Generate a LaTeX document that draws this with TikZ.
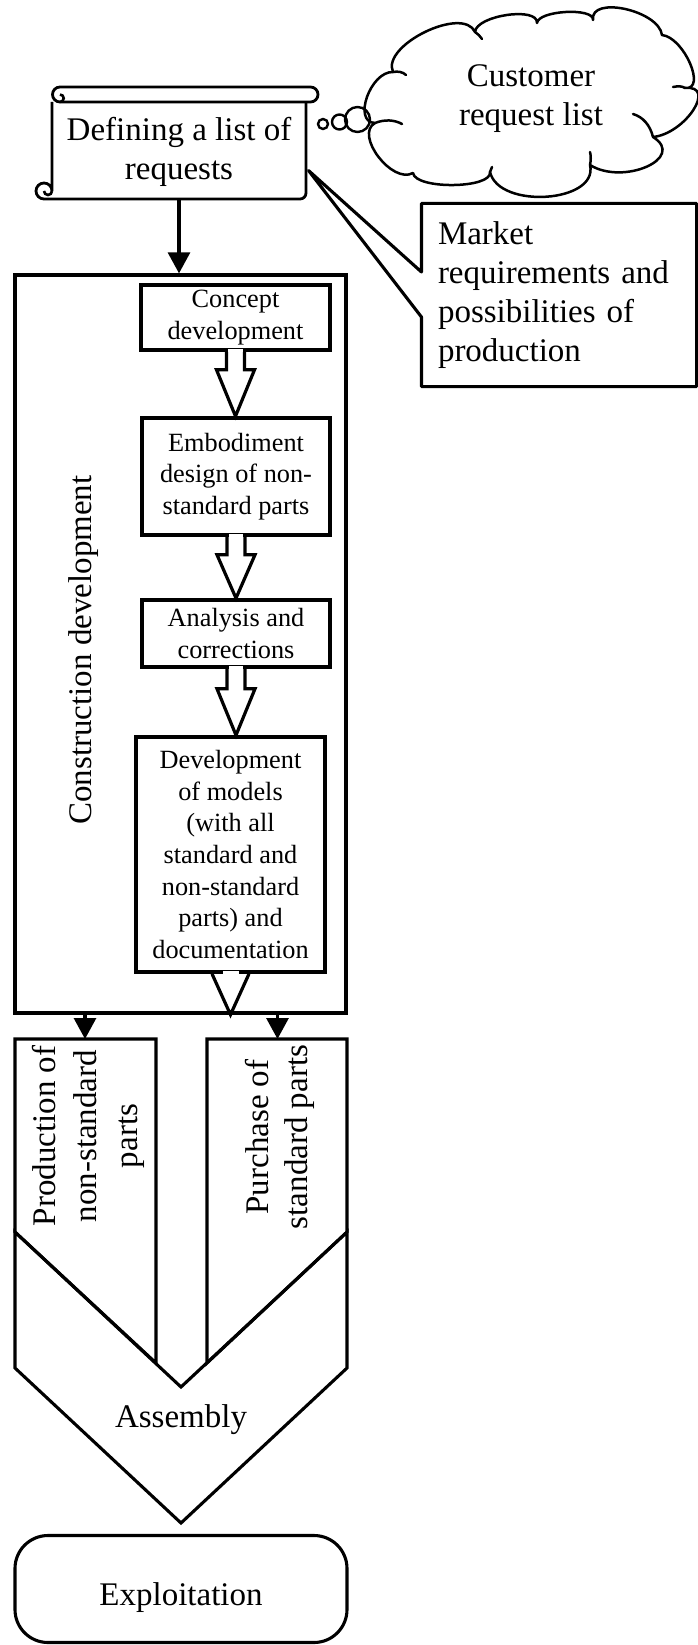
\documentclass[tikz,border=0pt]{standalone}
\usepackage{fontspec}
\setmainfont{Liberation Serif}
\usetikzlibrary{arrows.meta,calc}
\newcommand{\blkarrow}[3]{%
  \fill[white] ($(#1.south)+(-7.4,-2.8)$) rectangle ($(#1.south)+(7.4,2)$);
  \draw[blk] ($(#1.south)+(-9,0)$) -- ++(0,#3) -- ++(-10,0) -- (#1.south |- #2.north)
    -- ($(#1.south)+(19,#3)$) -- ++(-10,0) -- ++(0,-#3);
}
\begin{document}
\begin{tikzpicture}[x=1pt,y=-1pt,
  line width=3.1pt,
  bigtxt/.style={font=\fontsize{33}{39}\selectfont},
  boxtxt/.style={font=\fontsize{26.3}{31.6}\selectfont},
  stepbox/.style={draw, line width=3.6pt, rectangle, inner sep=0pt, align=center, boxtxt},
  arr/.style={-{Triangle[length=21pt,width=22pt]}},
  blk/.style={line width=3.2pt, line join=miter},
  bubble/.style={circle, draw, line width=2.4pt, inner sep=0pt},
  cloudline/.style={line width=2.5pt, line join=round, line cap=round},
]
\useasboundingbox (0,0) rectangle (697,1645);

% scroll: Defining a list of requests
\node[bigtxt, align=center, minimum width=254pt, minimum height=97pt, inner sep=0pt] (scroll) at (179,151.5) {Defining a list of\\requests};
\draw[line width=2.8pt] (306,102) -- (306,193) arc[start angle=0,end angle=90,radius=6] -- (44,199)
      arc[start angle=90,end angle=360,radius=8] -- (52,102);
\draw[line width=2.6pt] (52,191) arc[start angle=0,end angle=180,radius=4];
\draw[line width=2.8pt] (60,102) arc[start angle=90,end angle=270,radius=7.5] -- (310.5,87)
      arc[start angle=270,end angle=450,radius=7.5] -- cycle;
\draw[line width=2.6pt] (60,102) arc[start angle=90,end angle=-90,radius=3.75];

% cloud and thought bubbles
\draw[cloudline] (375,123) .. controls (352.3,122.3) and (370.3,71.3) .. (393,72)
  .. controls (381,45.3) and (463,5.3) .. (475,32)
  .. controls (476.3,15.3) and (538.3,6.3) .. (537,23)
  .. controls (538.3,10.3) and (594.3,7.3) .. (593,20)
  .. controls (589.7,-4.7) and (658.7,10.3) .. (662,35)
  .. controls (684,37.4) and (707,90.4) .. (685,88)
  .. controls (717.4,84.7) and (685.4,133.7) .. (653,137)
  .. controls (686.6,157.9) and (623.6,185.9) .. (590,165)
  .. controls (598.9,202.6) and (498.9,209.6) .. (490,172)
  .. controls (492.4,188.7) and (415.4,189.7) .. (413,173)
  .. controls (392.1,184.6) and (354.1,134.6) .. (375,123);
\draw[cloudline] (375,123) .. controls (385,119) and (395,120) .. (402,124);
\draw[cloudline] (393,72) .. controls (398,71) and (403,72) .. (406,75);
\draw[cloudline] (475,32) .. controls (478,34) and (480,36) .. (482,39);
\draw[cloudline] (685,88) .. controls (682,86) and (678,86) .. (673,87);
\draw[cloudline] (653,137) .. controls (650,125) and (643,117) .. (633,114);
\draw[cloudline] (590,165) .. controls (591,160) and (591,156) .. (590,152);
\draw[cloudline] (490,172) .. controls (490.5,170) and (491,169) .. (492,167);
\node[bigtxt, align=center, inner sep=0pt] (cloud) at (531,99) {Customer\\request list};
\node[bubble, minimum size=10pt] (b1) at (323,124) {};
\node[bubble, minimum size=15pt] (b2) at (339.5,122) {};
\node[bubble, minimum size=25pt] (b3) at (357.5,119.5) {};

% market callout
\node[bigtxt, align=left, text width=242pt, minimum width=272pt, minimum height=180pt, inner sep=0pt] (mkt) at (559,295)
  {Market\\requirements and\\possibilities of\\production};
\draw[line join=round] ($(mkt.west)+(0,-23)$) -- (mkt.north west) -- (mkt.north east) -- (mkt.south east)
  -- (mkt.south west) -- ($(mkt.west)+(0,22)$) -- ($(scroll.south east)+(1,-31)$) -- cycle;

% construction development frame
\node[draw, line width=3.3pt, minimum width=331pt, minimum height=738pt, inner sep=0pt] (cd) at (180.5,644) {};
\node[bigtxt, rotate=90] (cdt) at (84,650) {Construction development};
\draw[arr] (scroll.south |- 0,199) -- (scroll.south |- cd.north);

% steps
\node[stepbox, minimum width=189pt, minimum height=65pt] (c) at (235.5,317.5) {Concept\\development};
\node[stepbox, minimum width=188pt, minimum height=117pt] (e) at (236,476.5) {Embodiment\\design of non-\\standard parts};
\node[stepbox, minimum width=188pt, minimum height=67pt] (a) at (236,633.5) {Analysis and\\corrections};
\node[stepbox, minimum width=189pt, minimum height=235pt] (d) at (230.5,854.5)
  {Development\\of models\\(with all\\standard and\\non-standard\\parts) and\\documentation};

\blkarrow{c}{e}{18}
\blkarrow{e}{a}{18}
\blkarrow{a}{d}{20}
\fill[white] ($(d.south)+(-8,-2.8)$) rectangle ($(d.south)+(8,2)$);
\draw[blk] ($(d.south)+(-18.5,0)$) -- (d.south |- cd.south) -- ($(d.south)+(18.5,0)$);

% production / purchase
\coordinate (pt1) at (85,1039);
\coordinate (pt2) at (277.5,1039);
\draw[arr] (cd.south -| pt1) -- (pt1);
\draw[arr] (cd.south -| pt2) -- (pt2);
\draw (15,1039) -- (156,1039) -- (156,1363) -- (15,1232) -- cycle;
\draw (207,1039) -- (347,1039) -- (347,1232) -- (207,1363) -- cycle;
\node[rotate=90, align=center, font=\fontsize{33}{41}\selectfont] (prod) at (88.5,1136) {Production of\\non-standard\\parts};
\node[rotate=90, align=center, font=\fontsize{33}{39}\selectfont] (purch) at (279.5,1137) {Purchase of\\standard parts};

% assembly chevron
\draw (15,1232) -- (181,1387) -- (347,1232) -- (347,1368) -- (181,1523) -- (15,1368) -- cycle;
\node[bigtxt] (asm) at (181,1420) {Assembly};

% exploitation
\node[draw, rounded corners=33pt, minimum width=332pt, minimum height=107pt, inner sep=0pt] (exp) at (181,1589) {};
\node[bigtxt] (expt) at (181,1598) {Exploitation};
\end{tikzpicture}
\end{document}
